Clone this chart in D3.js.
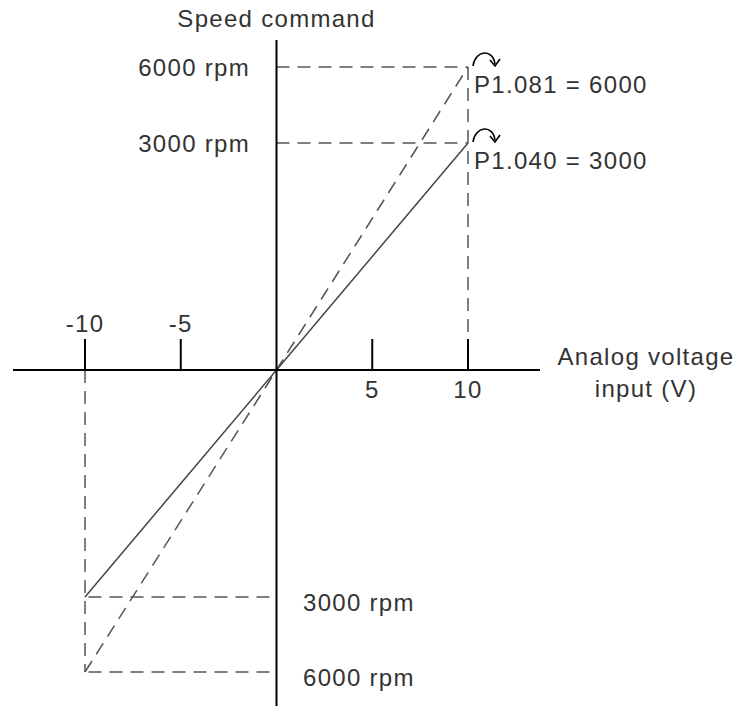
<!DOCTYPE html>
<html>
<head>
<meta charset="utf-8">
<script src="https://cdn.jsdelivr.net/npm/d3@7"></script>
<style>
  html, body { margin: 0; padding: 0; background: #fff; }
  text { font-family: Arial, "Liberation Sans", sans-serif; font-size: 24px; fill: #333; letter-spacing: 1.3px; }
</style>
</head>
<body>
<div id="chart"></div>
<script>
// voltage positions of the lines and ticks
const voltage = [-10, 0, 10];
const speed3000 = [-3000, 0, 3000];
const speed6000 = [-6000, 0, 6000];
const voltTicks = [-10, -5, 5, 10];
const rpmLevels = [3000, 6000];
const rpmLabels = ["3000 rpm", "6000 rpm"];
const paramLabels = ["P1.040 = 3000", "P1.081 = 6000"];

const width = 739, height = 711;

const svg = d3.select("#chart")
    .append("svg")
    .attr("width", width)
    .attr("height", height);

const x = d3.scaleLinear().domain([-10, 10]).range([85, 468]);
// schematic drawing: speed axis is not drawn to scale
const y = d3.scaleLinear()
    .domain([-6000, -3000, 0, 3000, 6000])
    .range([672, 597, 370, 143, 67]);

const dash = "13,8";

// dashed guides
rpmLevels.forEach(v => {
    svg.append("line")
        .attr("x1", x(0)).attr("x2", x(10))
        .attr("y1", y(v)).attr("y2", y(v))
        .attr("stroke", "#555").attr("stroke-width", 1.5)
        .attr("stroke-dasharray", dash);
    svg.append("line")
        .attr("x1", x(0) - 7).attr("x2", x(-10))
        .attr("y1", y(-v)).attr("y2", y(-v))
        .attr("stroke", "#555").attr("stroke-width", 1.5)
        .attr("stroke-dasharray", dash);
});

svg.append("line")
    .attr("x1", x(10)).attr("x2", x(10))
    .attr("y1", y(6000)).attr("y2", y(0))
    .attr("stroke", "#555").attr("stroke-width", 1.5)
    .attr("stroke-dasharray", dash);

svg.append("line")
    .attr("x1", x(-10)).attr("x2", x(-10))
    .attr("y1", y(0)).attr("y2", y(-6000))
    .attr("stroke", "#555").attr("stroke-width", 1.5)
    .attr("stroke-dasharray", dash);

const line = d3.line().x(d => x(d[0])).y(d => y(d[1]));

svg.append("path")
    .attr("d", line(d3.zip(voltage, speed6000)))
    .attr("fill", "none")
    .attr("stroke", "#555").attr("stroke-width", 1.5)
    .attr("stroke-dasharray", dash);

svg.append("path")
    .attr("d", line(d3.zip(voltage, speed3000)))
    .attr("fill", "none")
    .attr("stroke", "#444").attr("stroke-width", 1.5);

// axes
svg.append("line")
    .attr("x1", 13).attr("x2", 540)
    .attr("y1", y(0)).attr("y2", y(0))
    .attr("stroke", "#000").attr("stroke-width", 2);

svg.append("line")
    .attr("x1", x(0)).attr("x2", x(0))
    .attr("y1", 40).attr("y2", 706)
    .attr("stroke", "#000").attr("stroke-width", 2);

svg.selectAll(".tick")
    .data(voltTicks)
    .enter()
    .append("line")
    .attr("class", "tick")
    .attr("x1", d => x(d)).attr("x2", d => x(d))
    .attr("y1", y(0) - 31).attr("y2", y(0))
    .attr("stroke", "#000").attr("stroke-width", 2);

svg.selectAll(".ticklabel")
    .data(voltTicks)
    .enter()
    .append("text")
    .attr("class", "ticklabel")
    .attr("x", d => x(d))
    .attr("y", d => d < 0 ? y(0) - 38 : y(0) + 28)
    .attr("text-anchor", "middle")
    .text(d => d);

// axis titles
svg.append("text")
    .attr("x", x(0)).attr("y", 27)
    .attr("text-anchor", "middle")
    .text("Speed command");

const xTitle = svg.append("text")
    .attr("x", 646).attr("y", 365)
    .attr("text-anchor", "middle");
xTitle.append("tspan").attr("x", 646).text("Analog voltage");
xTitle.append("tspan").attr("x", 646).attr("dy", 32).text("input (V)");

// rpm labels
svg.selectAll(".rpmTop")
    .data(rpmLevels)
    .enter()
    .append("text")
    .attr("class", "rpmTop")
    .attr("x", 250).attr("y", d => y(d) + 9)
    .attr("text-anchor", "end")
    .text((d, i) => rpmLabels[i]);

svg.selectAll(".rpmBottom")
    .data(rpmLevels)
    .enter()
    .append("text")
    .attr("class", "rpmBottom")
    .attr("x", 303).attr("y", d => y(-d) + 14)
    .text((d, i) => rpmLabels[i]);

// parameter labels with curved arrows
svg.selectAll(".param")
    .data(rpmLevels)
    .enter()
    .append("text")
    .attr("class", "param")
    .attr("x", x(10) + 6).attr("y", d => y(d) + 26)
    .text((d, i) => paramLabels[i]);

rpmLevels.forEach(v => {
    const px = x(10) + 5, py = y(v) - 1;
    svg.append("path")
        .attr("d", `M${px},${py} C${px + 2},${py - 16} ${px + 20},${py - 18} ${px + 22},${py - 2}`)
        .attr("fill", "none").attr("stroke", "#000").attr("stroke-width", 1.6);
    svg.append("path")
        .attr("d", `M${px + 17},${py - 6} L${px + 22},${py} L${px + 27},${py - 7}`)
        .attr("fill", "none").attr("stroke", "#000").attr("stroke-width", 1.6);
});
</script>
</body>
</html>
